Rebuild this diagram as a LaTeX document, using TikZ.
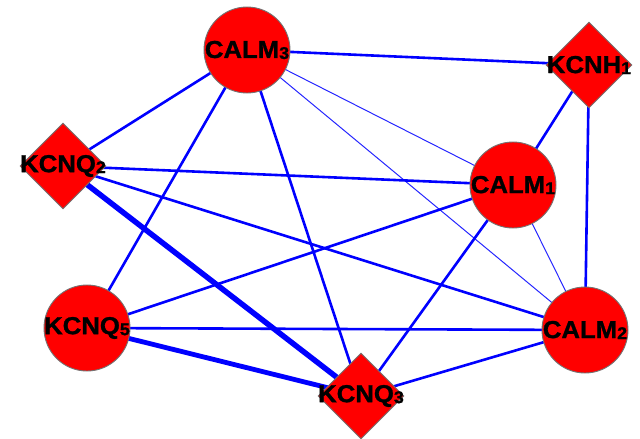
\documentclass[tikz,border=0pt]{standalone}
\usepackage{fontspec}
\setmainfont{Liberation Sans}
\newfontfamily\lblfont[FakeStretch=1.05,FakeBold=1.2]{Liberation Sans Bold}
\usetikzlibrary{shapes.geometric,backgrounds}
\newcommand{\lbl}[2]{{\lblfont\fontsize{24.5}{25}\selectfont #1\raisebox{-1pt}{\fontsize{17}{17}\selectfont #2}}}
\tikzset{
  gnode/.style={fill=red, draw=black!55, line width=0.9pt, inner sep=0pt, text=black},
  circ/.style={gnode, circle, minimum size=86pt},
  diam/.style={gnode, diamond, minimum size=86pt},
  lbltext/.style={inner sep=0pt},
  med/.style={draw=blue, line width=2.6pt},
  thin/.style={draw=blue!85, line width=1pt},
  thick/.style={draw=blue, line width=5.5pt},
  thicker/.style={draw=blue, line width=4.8pt}
}
\begin{document}
\begin{tikzpicture}[x=1pt,y=-1pt]
\useasboundingbox (0,0) rectangle (640,439);
\node[circ] (calm3) at (247,50) {};
\node[diam] (kcnh1) at (589,65) {};
\node[diam] (kcnq2) at (63,166) {};
\node[circ] (calm1) at (513,185) {};
\node[circ] (kcnq5) at (87,328) {};
\node[circ] (calm2) at (585,330) {};
\node[diam] (kcnq3) at (361,396) {};
\node[lbltext] at (calm3.center) {\lbl{CALM}{3}};
\node[lbltext] at (kcnh1.center) {\lbl{KCNH}{1}};
\node[lbltext] at (kcnq2.center) {\lbl{KCNQ}{2}};
\node[lbltext] at (calm1.center) {\lbl{CALM}{1}};
\node[lbltext] at (kcnq5.center) {\lbl{KCNQ}{5}};
\node[lbltext] at (calm2.center) {\lbl{CALM}{2}};
\node[lbltext] at (kcnq3.center) {\lbl{KCNQ}{3}};
\begin{scope}[on background layer]
\draw[med] (calm3.center) -- (kcnh1.center);
\draw[med] (calm3.center) -- (kcnq2.center);
\draw[med] (calm3.center) -- (kcnq5.center);
\draw[med] (calm3.center) -- (kcnq3.center);
\draw[thin] (calm3.center) -- (calm1.center);
\draw[thin] (calm3.center) -- (calm2.center);
\draw[med] (kcnh1.center) -- (calm1.center);
\draw[med] (kcnh1.center) -- (calm2.center);
\draw[med] (kcnq2.center) -- (calm1.center);
\draw[med] (kcnq2.center) -- (calm2.center);
\draw[thick] (kcnq2.center) -- (kcnq3.center);
\draw[med] (calm1.center) -- (kcnq5.center);
\draw[med] (calm1.center) -- (kcnq3.center);
\draw[thin] (calm1.center) -- (calm2.center);
\draw[med] (kcnq5.center) -- (calm2.center);
\draw[thicker] (kcnq5.center) -- (kcnq3.center);
\draw[med] (kcnq3.center) -- (calm2.center);
\end{scope}
\end{tikzpicture}
\end{document}
